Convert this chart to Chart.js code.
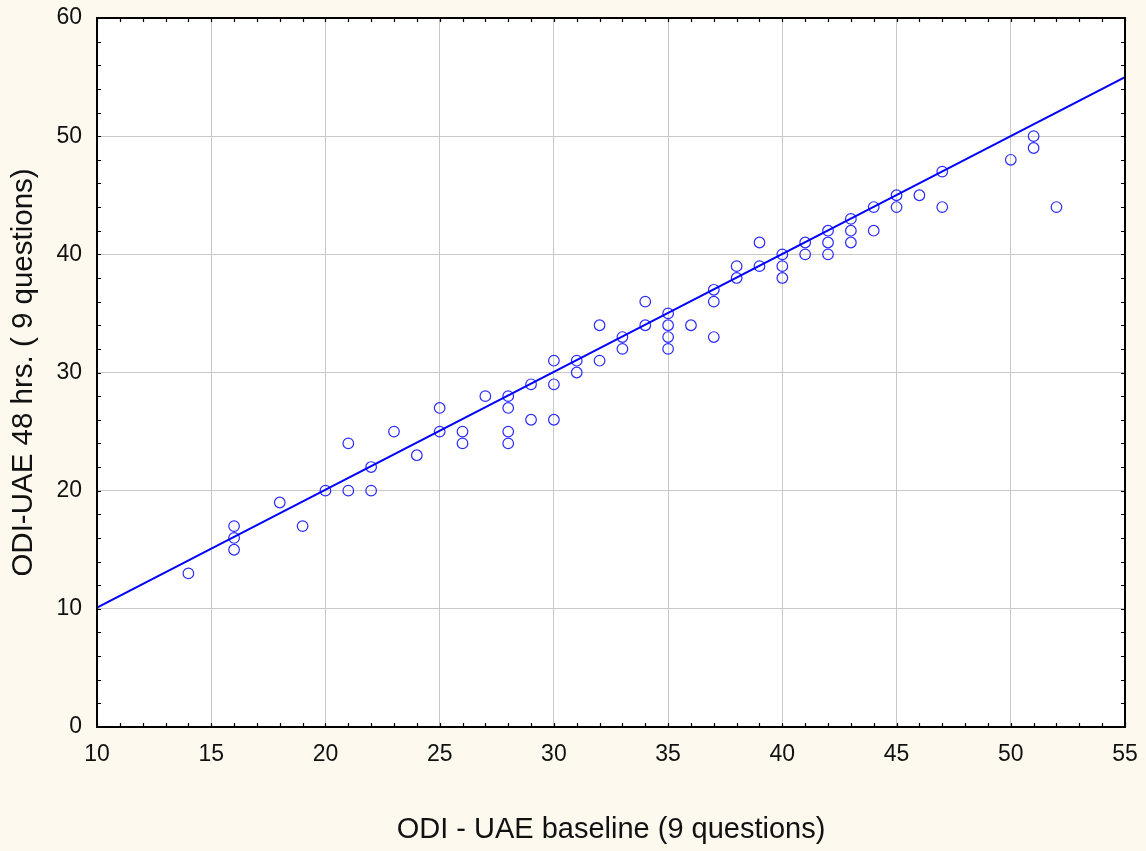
<!DOCTYPE html>
<html>
<head>
<meta charset="utf-8">
<script src="https://cdn.jsdelivr.net/npm/chart.js@4"></script>
<style>
  html, body { margin: 0; padding: 0; background: #fdf9ef; }
  #wrap { width: 1146px; height: 851px; }
</style>
</head>
<body>
<div id="wrap"><canvas id="scatter"></canvas></div>
<script>
// ODI baseline vs ODI at 48 hrs
const baseline = [14, 16, 16, 16, 18, 19, 20, 21, 21, 22, 22, 23, 24, 25, 25, 26, 26, 27, 28, 28, 28, 28,
  29, 29, 30, 30, 30, 31, 31, 32, 32, 33, 33, 34, 34, 35, 35, 35, 35, 36, 37, 37, 37, 38, 38,
  39, 39, 40, 40, 40, 41, 41, 42, 42, 42, 43, 43, 43, 44, 44, 45, 45, 46, 47, 47, 50, 51, 51, 52];
const after48 = [13, 17, 16, 15, 19, 17, 20, 24, 20, 22, 20, 25, 23, 27, 25, 25, 24, 28, 28, 27, 25, 24,
  29, 26, 31, 29, 26, 31, 30, 34, 31, 33, 32, 36, 34, 35, 34, 33, 32, 34, 37, 36, 33, 39, 38,
  41, 39, 40, 39, 38, 41, 40, 42, 41, 40, 43, 42, 41, 44, 42, 45, 44, 45, 47, 44, 48, 50, 49, 44];

// fitted line end points
const fitX = [10, 55];
const fitY = [10.1, 55];

const xTicks = [10, 15, 20, 25, 30, 35, 40, 45, 50, 55];
const yTicks = [0, 10, 20, 30, 40, 50, 60];

const points = baseline.map((x, i) => ({ x: x, y: after48[i] }));
const fitLine = fitX.map((x, i) => ({ x: x, y: fitY[i] }));

// white plot area, black frame and small inward ticks on all four sides
const frame = {
  id: 'frame',
  beforeDraw(chart) {
    const { ctx, chartArea: a } = chart;
    ctx.save();
    ctx.fillStyle = '#ffffff';
    ctx.fillRect(a.left, a.top, a.right - a.left, a.bottom - a.top);
    ctx.restore();
  },
  afterDraw(chart) {
    const { ctx, chartArea: a, scales } = chart;
    ctx.save();
    ctx.strokeStyle = '#000';
    ctx.lineWidth = 1.2;
    ctx.beginPath();
    for (let v = 10; v <= 55; v++) {
      const px = Math.round(scales.x.getPixelForValue(v)) + 0.5;
      ctx.moveTo(px, a.bottom); ctx.lineTo(px, a.bottom - 4);
      ctx.moveTo(px, a.top); ctx.lineTo(px, a.top + 4);
    }
    for (let v = 0; v <= 60; v += 2) {
      const py = Math.round(scales.y.getPixelForValue(v)) + 0.5;
      ctx.moveTo(a.left, py); ctx.lineTo(a.left + 4, py);
      ctx.moveTo(a.right, py); ctx.lineTo(a.right - 4, py);
    }
    ctx.stroke();
    ctx.lineWidth = 2;
    ctx.strokeRect(a.left, a.top, a.right - a.left, a.bottom - a.top);
    ctx.restore();
  }
};

new Chart(document.getElementById('scatter'), {
  type: 'scatter',
  data: {
    datasets: [
      {
        type: 'line',
        data: fitLine,
        borderColor: '#0000ff',
        borderWidth: 2,
        pointRadius: 0,
        fill: false
      },
      {
        data: points,
        pointStyle: 'circle',
        pointRadius: 5.3,
        pointBorderWidth: 1.2,
        pointBorderColor: '#2a2aff',
        pointBackgroundColor: 'rgba(0,0,0,0)'
      }
    ]
  },
  options: {
    responsive: true,
    maintainAspectRatio: false,
    animation: false,
    layout: { padding: { top: 18, right: 21, left: 0, bottom: 0 } },
    plugins: { legend: { display: false }, tooltip: { enabled: false } },
    scales: {
      x: {
        type: 'linear',
        min: 10, max: 55,
        afterBuildTicks: (s) => { s.ticks = xTicks.map(v => ({ value: v })); },
        afterFit: (s) => { s.height = 124; s.paddingLeft = 0; s.paddingRight = 0; },
        grid: { color: '#c8c8c8', lineWidth: 1, drawTicks: false },
        border: { display: false },
        ticks: { color: '#111', padding: 14, maxRotation: 0, font: { family: 'Liberation Sans, Arial', size: 23 } },
        title: {
          display: true,
          text: 'ODI - UAE baseline (9 questions)',
          color: '#111',
          padding: { top: 0, bottom: 4 },
          font: { family: 'Liberation Sans, Arial', size: 29 }
        }
      },
      y: {
        type: 'linear',
        min: 0, max: 60,
        afterBuildTicks: (s) => { s.ticks = yTicks.map(v => ({ value: v })); },
        afterFit: (s) => { s.width = 97; s.paddingTop = 0; s.paddingBottom = 0; },
        grid: { color: '#c8c8c8', lineWidth: 1, drawTicks: false },
        border: { display: false },
        ticks: { color: '#111', padding: 15, font: { family: 'Liberation Sans, Arial', size: 23 } },
        title: {
          display: true,
          text: 'ODI-UAE 48 hrs. ( 9 questions)',
          color: '#111',
          padding: { top: 6, bottom: 0 },
          font: { family: 'Liberation Sans, Arial', size: 29.5 }
        }
      }
    }
  },
  plugins: [frame]
});
</script>
</body>
</html>
